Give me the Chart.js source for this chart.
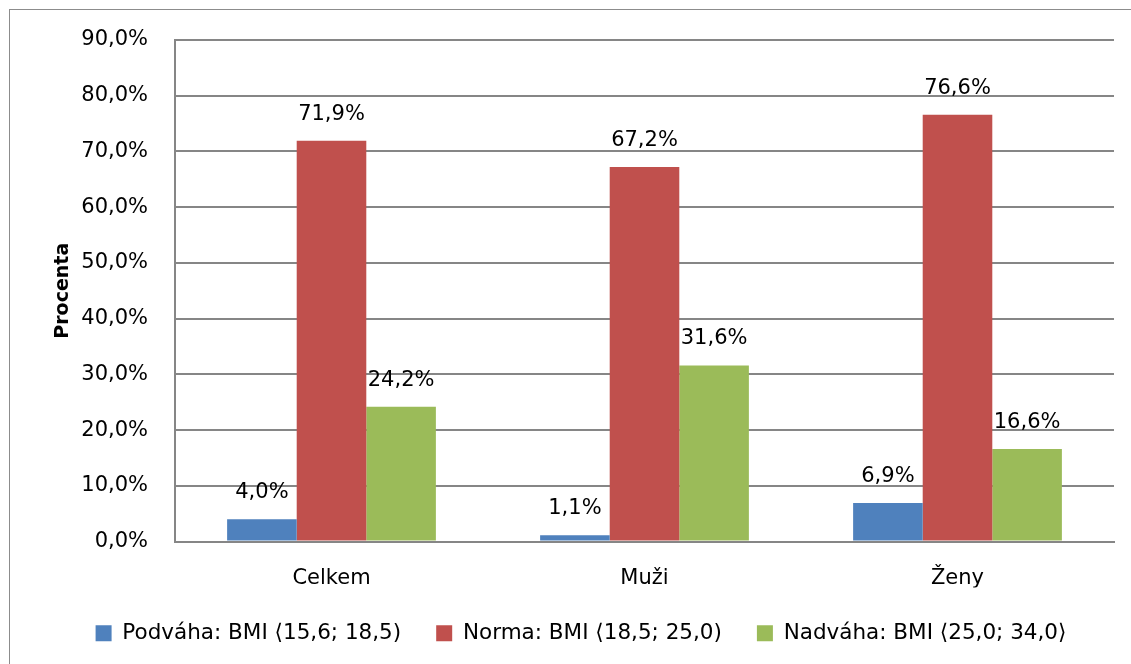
<!DOCTYPE html>
<html lang="cs">
<head>
<meta charset="utf-8">
<title>BMI</title>
<script src="https://cdn.jsdelivr.net/npm/chart.js@4"></script>
<style>
  html, body { margin: 0; padding: 0; background: #fff; overflow: hidden; }
  #wrap { position: relative; width: 1131px; height: 664px; }
  #frame { position: absolute; left: 9px; top: 9px; width: 1200px; height: 700px;
           border: 1px solid #8c8c8c; pointer-events: none; }
</style>
</head>
<body>
<div id="wrap">
  <canvas id="bmi"></canvas>
  <div id="frame"></div>
</div>
<script>
const skupiny = ['Celkem', 'Muži', 'Ženy'];
const podvaha = [4.0, 1.1, 6.9];
const norma = [71.9, 67.2, 76.6];
const nadvaha = [24.2, 31.6, 16.6];
const osaY = [0, 10, 20, 30, 40, 50, 60, 70, 80, 90];

const pismo = '"DejaVu Sans", sans-serif';
const procenta = (v, mista) => v.toFixed(mista).replace('.', ',') + '%';

// popisky hodnot nad sloupci
const popisky = {
    id: 'popisky',
    afterDatasetsDraw(chart) {
        const c = chart.ctx;
        c.save();
        c.font = '21px ' + pismo;
        c.fillStyle = '#000';
        c.textAlign = 'center';
        c.textBaseline = 'alphabetic';
        chart.data.datasets.forEach((ds, i) => {
            chart.getDatasetMeta(i).data.forEach((bar, j) => {
                c.fillText(procenta(ds.data[j], 1), bar.x, bar.y - 21);
            });
        });
        c.restore();
    }
};

new Chart(document.getElementById('bmi'), {
    type: 'bar',
    data: {
        labels: skupiny,
        datasets: [
            { label: 'Podváha: BMI \u27E815,6; 18,5)', data: podvaha, backgroundColor: '#4F81BD' },
            { label: 'Norma: BMI \u27E818,5; 25,0)', data: norma, backgroundColor: '#C0504D' },
            { label: 'Nadváha: BMI \u27E825,0; 34,0\u27E9', data: nadvaha, backgroundColor: '#9BBB59' }
        ]
    },
    options: {
        responsive: true,
        maintainAspectRatio: false,
        animation: false,
        categoryPercentage: 0.667,
        barPercentage: 1,
        layout: { padding: { top: 40, right: 17, left: 48, bottom: 10 } },
        scales: {
            x: {
                grid: { display: false, drawTicks: false },
                border: { display: true, color: '#868686', width: 2 },
                ticks: { color: '#000', padding: 24, font: { family: pismo, size: 21 } },
                afterFit: s => { s.height = 46; }
            },
            y: {
                min: 0,
                max: 90,
                afterBuildTicks: s => { s.ticks = osaY.map(v => ({ value: v })); },
                grid: { color: '#868686', lineWidth: 2, drawTicks: false },
                border: { display: true, color: '#868686', width: 2 },
                ticks: {
                    color: '#000',
                    padding: 27,
                    font: { family: pismo, size: 21 },
                    callback: v => procenta(v, 1)
                },
                title: {
                    display: true,
                    text: 'Procenta',
                    color: '#000',
                    font: { family: pismo, size: 19, weight: 'bold' },
                    padding: { top: 4, bottom: 0 }
                },
                afterFit: s => { s.width = 127; }
            }
        },
        plugins: {
            legend: {
                position: 'bottom',
                labels: {
                    color: '#000',
                    boxWidth: 16,
                    boxHeight: 16,
                    padding: 35,
                    font: { family: pismo, size: 21.5 }
                }
            },
            tooltip: { enabled: false }
        }
    },
    plugins: [popisky]
});
</script>
</body>
</html>
